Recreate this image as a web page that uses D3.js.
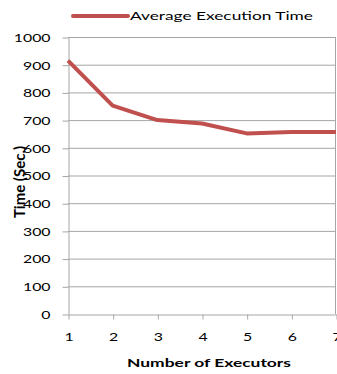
<!DOCTYPE html>
<html><head><meta charset="utf-8">
<script src="https://cdn.jsdelivr.net/npm/d3@7"></script>
<style>body{margin:0;background:#fff;} svg{display:block;font-family:Lato,"Open Sans",sans-serif;}</style>
</head><body>
<script>
const executors = [1,2,3,4,5,6,7];
const avgTime = [915,752,700,688,652,657,657];
const yTicks = [0,100,200,300,400,500,600,700,800,900,1000];
const seriesName = "Average Execution Time";
const xTitle = "Number of Executors";
const yTitle = "Time (Sec.)";

const W=337,H=374;
const svg=d3.select("body").append("svg").attr("width",W).attr("height",H);
const L=68,R=336,T=37,B=314;
const x=d3.scaleLinear().domain([1,7]).range([L,R]);
const y=d3.scaleLinear().domain([0,1000]).range([B,T]);
const grid="#a6a6a6";

function stretch(sel, f){
  sel.each(function(){
    const len=this.getComputedTextLength();
    d3.select(this).attr("textLength",len*f).attr("lengthAdjust","spacingAndGlyphs");
  });
}

svg.append("g").selectAll("line").data(yTicks.filter(d=>d>0)).join("line")
 .attr("x1",L).attr("x2",R).attr("y1",d=>y(d)+0.5).attr("y2",d=>y(d)+0.5)
 .attr("stroke",grid).attr("stroke-width",1);
svg.append("line").attr("x1",R-0.5).attr("x2",R-0.5).attr("y1",T).attr("y2",B).attr("stroke",grid);

const ya=svg.append("g").attr("transform",`translate(${L+0.5},0.5)`)
 .call(d3.axisLeft(y).tickValues(yTicks).tickFormat(d3.format("d")).tickSize(6).tickSizeOuter(0).tickPadding(12));
ya.select(".domain").attr("stroke",grid);
ya.selectAll(".tick line").attr("stroke",grid);
ya.selectAll("text").attr("font-size",12).attr("fill","#000").attr("font-family","Lato").call(stretch,1.32);

const xa=svg.append("g").attr("transform",`translate(0.5,${B+0.5})`)
 .call(d3.axisBottom(x).tickValues(executors).tickFormat(d3.format("d")).tickSize(5).tickSizeOuter(0).tickPadding(13));
xa.select(".domain").attr("stroke",grid);
xa.selectAll(".tick line").attr("stroke",grid);
xa.selectAll("text").attr("font-size",12).attr("fill","#000").attr("font-family","Lato").call(stretch,1.32);

svg.append("path").datum(executors.map((e,i)=>[e,avgTime[i]]))
 .attr("d",d3.line().x(d=>x(d[0])).y(d=>y(d[1])))
 .attr("fill","none").attr("stroke","#c0504d").attr("stroke-width",4).attr("stroke-linejoin","round");

svg.append("line").attr("x1",73).attr("x2",128).attr("y1",16).attr("y2",16)
 .attr("stroke","#c0504d").attr("stroke-width",4).attr("stroke-linecap","round");
svg.append("text").attr("x",130).attr("y",20).attr("font-size",12).attr("fill","#000").text(seriesName)
 .attr("textLength",183).attr("lengthAdjust","spacingAndGlyphs");

svg.append("text").attr("x",127).attr("y",367)
 .attr("font-size",12).attr("font-weight","bold").attr("fill","#000").text(xTitle)
 .attr("textLength",164).attr("lengthAdjust","spacingAndGlyphs");
svg.append("text").attr("transform","translate(25,182) rotate(-90)").attr("text-anchor","middle")
 .attr("font-size",15).attr("font-weight","bold").attr("fill","#000").text(yTitle);
</script>
</body></html>
